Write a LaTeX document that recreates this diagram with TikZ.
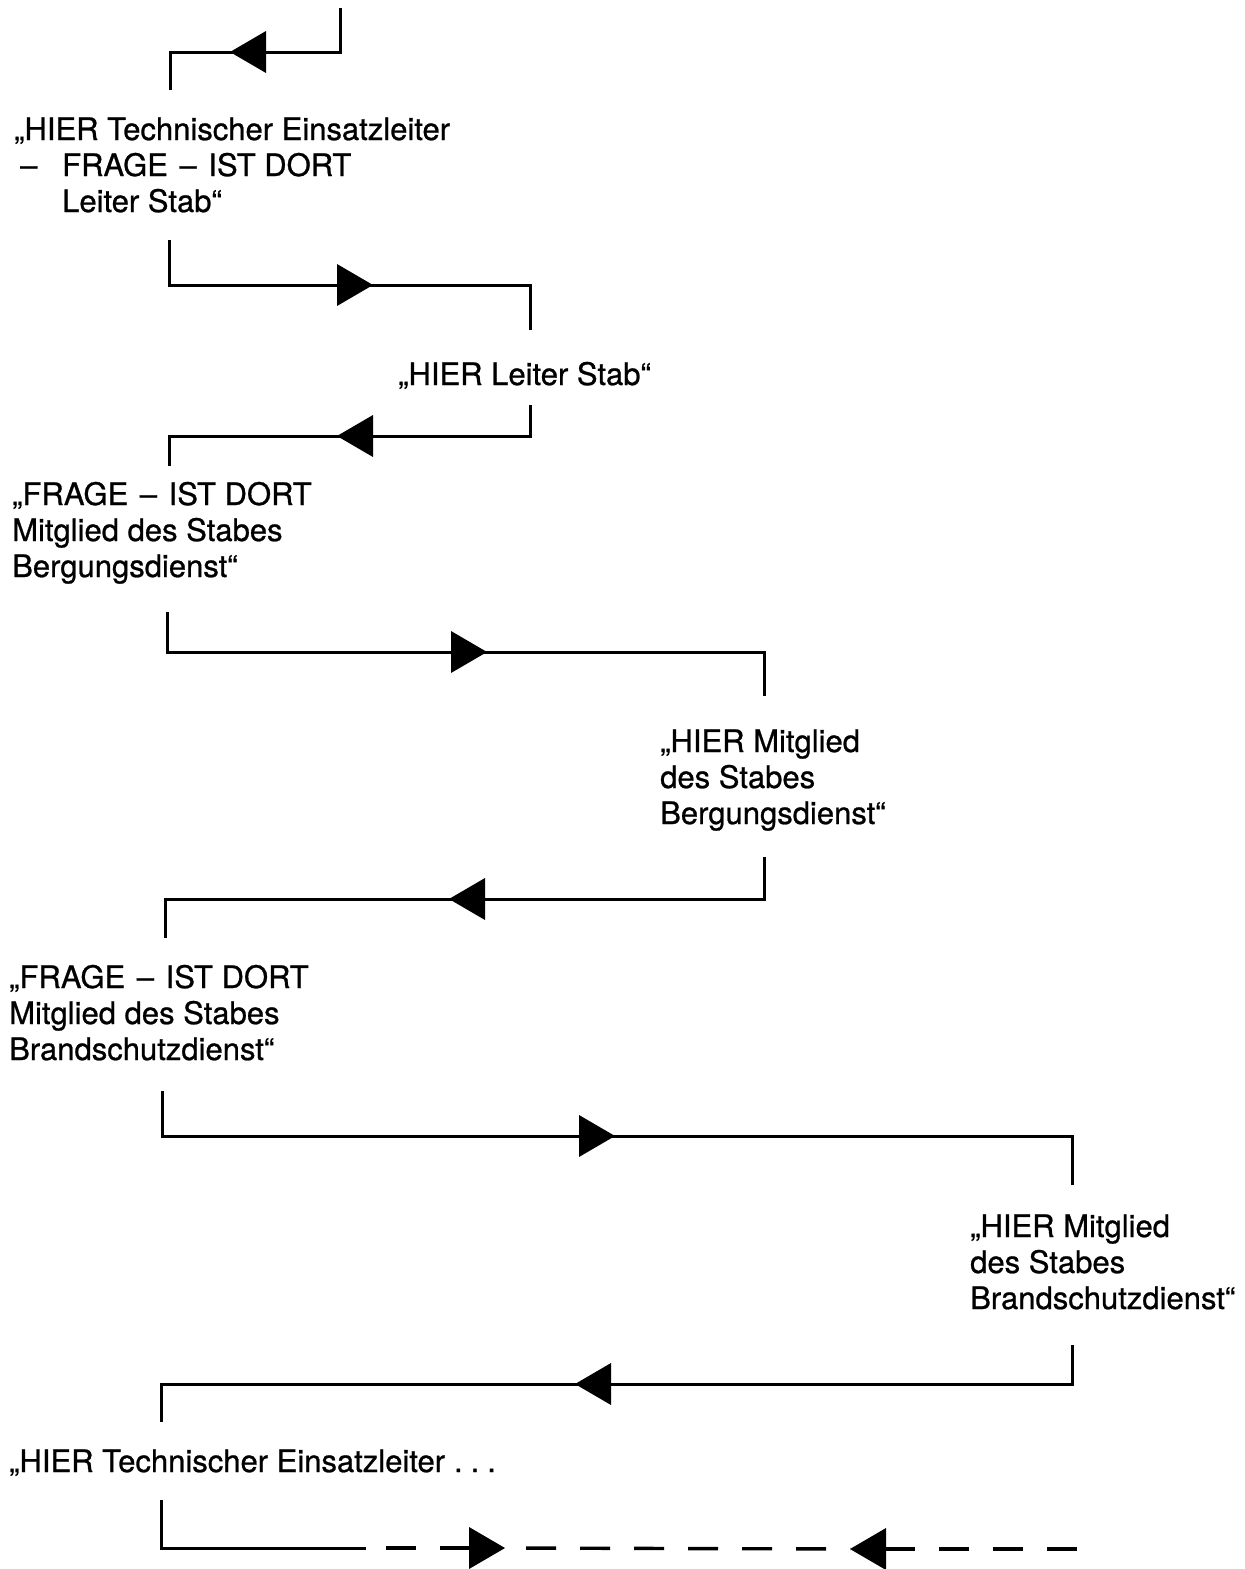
\documentclass[tikz,border=0pt]{standalone}
\usepackage{fontspec}
\setmainfont{TeX Gyre Heros}
\newfontfamily\msgfont{TeX Gyre Heros}[FakeBold=0.8]
% en dash with a little extra room on both sides
\newcommand{\gapdash}{\ \hspace{3pt}–\hspace{3pt}\ }
\begin{document}
\begin{tikzpicture}[x=1pt,y=-1pt,
  wire/.style={line width=3pt,line join=miter,line cap=butt},
  dashwire/.style={wire,line width=3.4pt,dash pattern=on 30pt off 24pt},
  msg/.style={inner sep=0pt,anchor=base west,align=left,
    font=\msgfont\fontsize{31}{36}\selectfont},
  headL/.pic={\fill (0,0) -- (36,-21) -- (36,21) -- cycle;},
  headR/.pic={\fill (0,0) -- (-36,-21) -- (-36,21) -- cycle;}]
\useasboundingbox (0,0) rectangle (1245,1569);

% messages (anchored at the baseline of their last line)
\node[msg] (t1) at (14,212) {„HIER Technischer Einsatzleiter\\
  \makebox[48pt][l]{\hspace{6pt}–}FRAGE\gapdash IST DORT\\
  \hspace{48pt}Leiter Stab“};
\node[msg] (t2) at (398,385) {„HIER Leiter Stab“};
\node[msg] (t3) at (12,577) {„FRAGE\gapdash IST DORT\\Mitglied des Stabes\\Bergungsdienst“};
\node[msg] (t4) at (660,824) {„HIER Mitglied\\des Stabes\\Bergungsdienst“};
\node[msg] (t5) at (9,1060) {„FRAGE\gapdash IST DORT\\Mitglied des Stabes\\Brandschutzdienst“};
\node[msg] (t6) at (970,1309) {„HIER Mitglied\\des Stabes\\Brandschutzdienst“};
\node[msg] (t7) at (9,1472) {„HIER Technischer Einsatzleiter\hspace{9pt}.\hspace{8pt}.\hspace{8pt}.};

% connector ends
\coordinate (s1) at (340,8);    \coordinate (e1) at (170,90);
\coordinate (s2) at (169,240);  \coordinate (e2) at (530,330);
\coordinate (s3) at (530,405);  \coordinate (e3) at (169,466);
\coordinate (s4) at (167,612);  \coordinate (e4) at (764,696);
\coordinate (s5) at (764,857);  \coordinate (e5) at (165,938);
\coordinate (s6) at (162,1091); \coordinate (e6) at (1072,1185);
\coordinate (s7) at (1072,1345);\coordinate (e7) at (161,1422);
\coordinate (s8) at (161,1500);

% arrow tips
\coordinate (a1) at (230,52);
\coordinate (a2) at (373,285);
\coordinate (a3) at (337,436);
\coordinate (a4) at (487,652);
\coordinate (a5) at (449,899);
\coordinate (a6) at (615,1136);
\coordinate (a7) at (575,1384);
\coordinate (a8) at (505,1548);
\coordinate (a9) at (850,1549);

% solid connectors
\draw[wire] (s1) |- (a1) -| (e1);
\draw[wire] (s2) |- (a2) -| (e2);
\draw[wire] (s3) |- (a3) -| (e3);
\draw[wire] (s4) |- (a4) -| (e4);
\draw[wire] (s5) |- (a5) -| (e5);
\draw[wire] (s6) |- (a6) -| (e6);
\draw[wire] (s7) |- (a7) -| (e7);

% last connector: solid start, then dashed
\coordinate (d0) at (366,1548);
\coordinate (d9) at (1077,1549);
\draw[wire] (s8) |- (d0);
\draw[dashwire,dash phase=34pt] (d0) -- ([xshift=-35pt]a8);
\draw[dashwire,dash phase=33pt] (a8) -- (a9);
\draw[dashwire] ([xshift=35pt]a9) -- (d9);

% arrowheads
\pic at (a1) {headL};
\pic at (a2) {headR};
\pic at (a3) {headL};
\pic at (a4) {headR};
\pic at (a5) {headL};
\pic at (a6) {headR};
\pic at (a7) {headL};
\pic at (a8) {headR};
\pic at (a9) {headL};
\end{tikzpicture}
\end{document}
